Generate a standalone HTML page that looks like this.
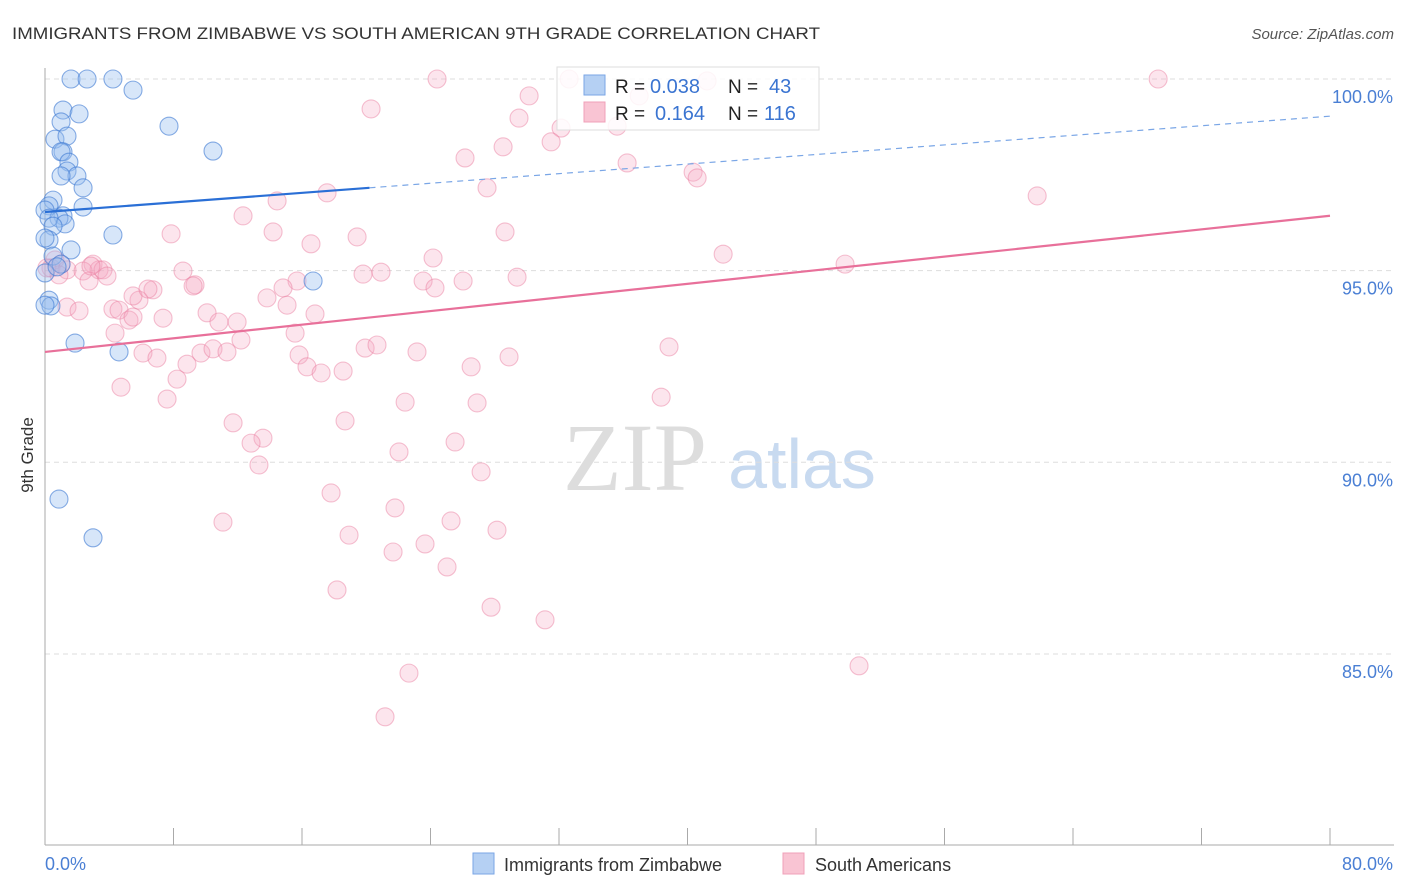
<!DOCTYPE html>
<html><head><meta charset="utf-8">
<style>
body{margin:0;background:#fff;font-family:"Liberation Sans",sans-serif;}
#wrap{position:relative;width:1406px;height:892px;overflow:hidden;}
</style></head>
<body>
<div id="wrap">
<svg id="svg" width="1406" height="892" xmlns="http://www.w3.org/2000/svg">
<text x="12" y="39" font-size="17" fill="#333" textLength="808" lengthAdjust="spacingAndGlyphs">IMMIGRANTS FROM ZIMBABWE VS SOUTH AMERICAN 9TH GRADE CORRELATION CHART</text>
<text x="1394" y="39" font-size="15" fill="#555" font-style="italic" text-anchor="end">Source: ZipAtlas.com</text>
<text x="33" y="455" font-size="17" fill="#333" transform="rotate(-90 33 455)" text-anchor="middle">9th Grade</text>
<g>
<text x="635" y="490" font-size="96" fill="#ddd" font-family="Liberation Serif,serif" text-anchor="middle">ZIP</text>
<text x="802" y="488" font-size="70" fill="#c8daf0" text-anchor="middle">atlas</text>
</g>
<g id="grid"></g><g id="axes"></g><g id="pts"></g><g id="lines"></g>
<g>
<rect x="557" y="67" width="262" height="63" fill="rgba(255,255,255,0.85)" stroke="#ddd"/>
<rect x="584" y="75" width="21" height="20" fill="#b5d0f3" stroke="#7aa6e6"/>
<rect x="584" y="102" width="21" height="20" fill="#f9c4d3" stroke="#f0a0b8"/>
<text x="615" y="93" font-size="19" fill="#222">R =</text>
<text x="650" y="93" font-size="20" fill="#3a74d1">0.038</text>
<text x="728" y="93" font-size="19" fill="#222">N =</text>
<text x="769" y="93" font-size="20" fill="#3a74d1">43</text>
<text x="615" y="120" font-size="19" fill="#222">R =</text>
<text x="655" y="120" font-size="20" fill="#3a74d1">0.164</text>
<text x="728" y="120" font-size="19" fill="#222">N =</text>
<text x="764" y="120" font-size="20" fill="#3a74d1">116</text>
</g>
<g>
<rect x="473" y="853" width="21" height="21" fill="#b5d0f3" stroke="#7aa6e6"/>
<text x="504" y="871" font-size="18" fill="#333">Immigrants from Zimbabwe</text>
<rect x="783" y="853" width="21" height="21" fill="#f9c4d3" stroke="#f0a0b8"/>
<text x="815" y="871" font-size="18" fill="#333">South Americans</text>
</g>
</svg>
</div>
<script>
const blueX=[1.62,2.62,4.23,5.48,1.12,2.12,7.72,1.0,0.62,1.37,10.46,1.12,1.0,1.49,1.37,1.99,1.0,2.37,0.5,2.37,0.25,0,1.12,0.87,0.25,1.25,0.5,4.23,0.25,0,1.62,0.5,1.0,0,0.75,16.69,0.25,0.37,0,1.87,4.61,0.87,2.99];
const blueY=[100,100,100,99.71,99.19,99.09,98.77,98.88,98.43,98.51,98.12,98.10,98.10,97.83,97.60,97.47,97.47,97.16,96.84,96.66,96.69,96.58,96.43,96.37,96.37,96.22,96.16,95.93,95.80,95.85,95.54,95.38,95.17,94.94,95.10,94.73,94.23,94.08,94.10,93.11,92.88,89.04,88.03];
const pinkX=[32.63,24.41,69.30,41.22,36.99,30.14,20.30,29.51,32.13,35.62,31.51,28.52,26.15,36.24,40.35,40.60,27.52,17.56,61.77,14.45,12.33,7.85,14.20,28.64,19.43,16.56,42.22,24.16,0.62,1.00,0.37,2.99,1.37,3.36,3.61,2.37,3.86,2.74,8.59,19.80,20.92,15.69,26.03,29.39,23.54,49.81,9.34,24.28,6.72,14.82,9.22,13.82,5.85,15.07,1.37,2.12,4.23,4.61,5.23,7.35,10.09,16.81,5.48,10.83,11.96,15.57,12.20,19.93,20.67,23.16,38.85,6.10,9.71,10.46,6.97,11.33,15.82,28.89,16.31,8.84,17.19,18.56,26.53,8.22,4.73,7.60,22.42,26.90,38.36,11.71,13.57,18.68,12.83,25.53,22.04,13.32,27.15,17.81,11.08,21.79,25.28,28.14,18.93,23.66,21.67,25.03,18.18,27.77,31.13,50.68,22.66,21.17,5.48,4.36,2.86,0.87,6.41,0.12];
const pinkY=[100,100,100,99.95,99.56,99.56,99.22,98.98,98.72,98.77,98.36,98.23,97.94,97.81,97.57,97.42,97.16,97.03,96.95,96.82,96.43,95.96,96.01,96.01,95.88,95.70,95.43,95.33,95.28,95.17,95.07,95.17,95.02,95.02,95.02,94.99,94.86,94.73,94.99,94.91,94.96,94.73,94.73,94.83,94.73,95.17,94.63,94.55,94.50,94.55,94.60,94.29,94.23,94.10,94.05,93.95,94.00,93.97,93.71,93.76,93.90,93.87,93.79,93.66,93.66,93.37,93.19,92.98,93.06,92.88,93.01,92.85,92.85,92.96,92.72,92.88,92.80,92.75,92.49,92.56,92.33,92.38,92.49,92.17,91.96,91.65,91.57,91.55,91.70,91.03,90.63,91.08,90.50,90.53,90.27,89.93,89.75,89.20,88.44,88.81,88.47,88.23,88.10,87.87,87.66,87.27,86.67,86.22,85.89,84.69,84.50,83.36,94.34,93.37,95.12,94.89,94.52,95.07];
const blueTrend=[96.53,0.03125];
const pinkTrend=[92.88,0.0444];
const yTicks=[100,95,90,85];
const yTickLabels=["100.0%","95.0%","90.0%","85.0%"];
const xTicks=[0,8,16,24,32,40,48,56,64,72,80];
const NS="http://www.w3.org/2000/svg";
const sx=v=>45+v*1285/80;
const sy=v=>79+(100-v)*38.33;
function mk(tag,attrs,parent){const e=document.createElementNS(NS,tag);for(const k in attrs)e.setAttribute(k,attrs[k]);document.getElementById(parent).appendChild(e);return e;}
yTicks.forEach((t,i)=>{
 const g=mk('line',{x1:45,x2:1394,y1:sy(t),y2:sy(t),stroke:'#ddd','stroke-dasharray':'5,4'},'grid');
 
 
 const l=mk('text',{x:1393,y:sy(t)+24,'font-size':18,fill:'#4a7fd4','text-anchor':'end'},'grid');
 l.textContent=yTickLabels[i];
 
 
});
const ax=mk('line',{x1:45,x2:45,y1:68,y2:845,stroke:'#aaa'},'axes');


const bx=mk('line',{x1:45,x2:1394,y1:845,y2:845,stroke:'#aaa'},'axes');


xTicks.forEach(t=>{
 const k=mk('line',{x1:sx(t),x2:sx(t),y1:828,y2:845,stroke:'#aaa'},'axes');
 
 
});
const xl0=mk('text',{x:45,y:870,'font-size':18,fill:'#4a7fd4'},'axes');
xl0.textContent=xTicks[0].toFixed(1)+'%';


const xl1=mk('text',{x:1393,y:870,'font-size':18,fill:'#4a7fd4','text-anchor':'end'},'axes');
xl1.textContent=xTicks[xTicks.length-1].toFixed(1)+'%';


pinkX.forEach((x,i)=>{
 const c=mk('circle',{cx:sx(x),cy:sy(pinkY[i]),r:9,fill:'rgba(246,170,195,0.3)',stroke:'rgba(232,120,155,0.45)','stroke-width':1.1},'pts');
 
 
});
blueX.forEach((x,i)=>{
 const c=mk('circle',{cx:sx(x),cy:sy(blueY[i]),r:9,fill:'rgba(150,190,240,0.38)',stroke:'rgba(60,120,210,0.6)','stroke-width':1.1},'pts');
 
 
});
const bSolidEnd=20.2;
const b1=mk('line',{x1:sx(0),y1:sy(blueTrend[0]),x2:sx(bSolidEnd),y2:sy(blueTrend[0]+blueTrend[1]*bSolidEnd),stroke:'#2a6fd6','stroke-width':2.2},'lines');


const b2=mk('line',{x1:sx(bSolidEnd),y1:sy(blueTrend[0]+blueTrend[1]*bSolidEnd),x2:sx(80),y2:sy(blueTrend[0]+blueTrend[1]*80),stroke:'#7aa6e6','stroke-width':1.2,'stroke-dasharray':'6,5'},'lines');


const p1=mk('line',{x1:sx(0),y1:sy(pinkTrend[0]),x2:sx(80),y2:sy(pinkTrend[0]+pinkTrend[1]*80),stroke:'#e8709a','stroke-width':2.2},'lines');


</script>
</body></html>
